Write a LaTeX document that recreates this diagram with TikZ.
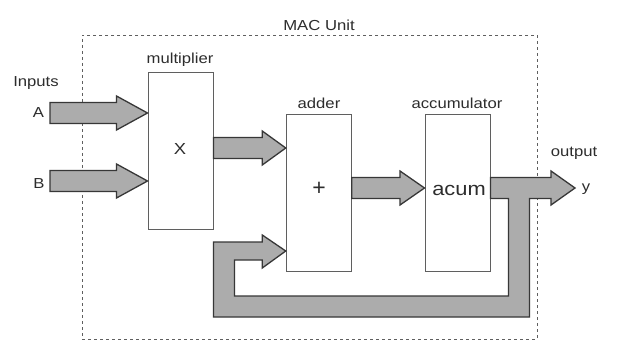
\documentclass[tikz,border=0pt]{standalone}
\usepackage{fontspec}
\setmainfont{Liberation Sans}
\usetikzlibrary{calc}

\definecolor{arrowgray}{RGB}{172,172,172}
\definecolor{edgegray}{RGB}{55,55,55}
\definecolor{boxgray}{RGB}{95,95,95}
\definecolor{textgray}{RGB}{45,45,45}

% slightly widened sans lettering
\newcommand\wide[1]{\scalebox{1.15}[1]{#1}}

\tikzset{
  block/.style={draw=boxgray, line width=1pt, fill=white,
                minimum width=65pt, minimum height=156pt, inner sep=0pt},
  fat/.style={fill=arrowgray, draw=edgegray, line width=1.3pt, line join=miter},
  lbl/.style={font=\fontsize{14.5}{16}\selectfont, text=textgray, inner sep=0pt, anchor=base},
  sym/.style={font=\fontsize{23}{25}\selectfont, text=textgray, inner sep=0pt},
  big/.style={font=\fontsize{19}{21}\selectfont, text=textgray, inner sep=0pt, anchor=base},
  frame/.style={draw=boxgray, line width=0.9pt, dash pattern=on 3pt off 3pt,
                minimum width=455pt, minimum height=304pt, inner sep=0pt}
}

% thick block arrow from the x of #1 to the tip #2 (horizontal), head length #3
\newcommand\fatarrow[3]{%
  \filldraw[fat] let \p1=(#1), \p2=(#2) in
    (\x1,\y2+10.5pt) -- (\x2-#3,\y2+10.5pt) -- (\x2-#3,\y2+17pt) -- (\x2,\y2)
    -- (\x2-#3,\y2-17pt) -- (\x2-#3,\y2-10.5pt) -- (\x1,\y2-10.5pt) -- cycle;}

\begin{document}
\begin{tikzpicture}[x=1pt, y=-1pt]
  \fill[white] (0,0) rectangle (617,363);
  \useasboundingbox (0,0) rectangle (617,363);

  % MAC unit boundary
  \node[frame] (mac) at (309.5,187) {};
  \node[lbl] (mactitle) at (319,30.5) {\wide{MAC Unit}};

  % functional blocks
  \node[block] (mult)  at (180.5,151) {};
  \node[block] (adder) at (318.75,193) {};
  \node[block] (acc)   at (457.5,193) {};

  \node[lbl] (multlbl)  at (180,64)  {\wide{multiplier}};
  \node[lbl] (addlbl)   at (319,109) {\wide{adder}};
  \node[lbl] (acclbl)   at (457,109) {\wide{accumulator}};

  \node[lbl, font=\fontsize{16}{18}\selectfont] (xsym) at (180,155) {\wide{X}};
  \node[sym] (plus)   at (319,189)   {+};
  \node[big] (acum)   at (459,195)   {\wide{acum}};

  % inputs
  \node[lbl] (inlbl) at (36,87)    {\wide{Inputs}};
  \node[lbl] (alab)  at (38.5,117.5) {\wide{A}};
  \node[lbl] (blab)  at (39,188.5) {\wide{B}};
  \coordinate (inA) at (50,113);
  \coordinate (inB) at (50,181);

  % output
  \node[lbl] (outlbl) at (574,157) {\wide{output}};
  \node[lbl] (ylab)   at (586,191) {\wide{y}};
  \coordinate (outtip) at (575,188);

  % data path arrows
  \fatarrow{inA}{mult.west |- inA}{31pt}
  \fatarrow{inB}{mult.west |- inB}{31pt}
  \fatarrow{mult.east}{[yshift=45pt]adder.west}{23.5pt}
  \fatarrow{[yshift=5pt]adder.east}{[yshift=5pt]acc.west}{24.5pt}

  % output arrow with feedback loop back into the adder
  \filldraw[fat] let \p1=([yshift=5pt]acc.east), \p2=(outtip),
                     \p3=([yshift=-58pt]adder.west), \p4=(mult.east) in
    (\x1,\y1+10.5pt) -- (\x2-24pt,\y1+10.5pt) -- (\x2-24pt,\y1+17pt) -- (\x2,\y1)
    -- (\x2-24pt,\y1-17pt) -- (\x2-24pt,\y1-10.5pt) -- (\x1+39pt,\y1-10.5pt)
    -- (\x1+39pt,\y1-129pt) -- (\x4,\y1-129pt) -- (\x4,\y3+9pt)
    -- (\x3-23.5pt,\y3+9pt) -- (\x3-23.5pt,\y3+16pt) -- (\x3,\y3)
    -- (\x3-23.5pt,\y3-17pt) -- (\x3-23.5pt,\y3-9pt) -- (\x4+21pt,\y3-9pt)
    -- (\x4+21pt,\y1-108pt) -- (\x1+18pt,\y1-108pt) -- (\x1+18pt,\y1-10.5pt)
    -- (\x1,\y1-10.5pt) -- cycle;
\end{tikzpicture}
\end{document}
